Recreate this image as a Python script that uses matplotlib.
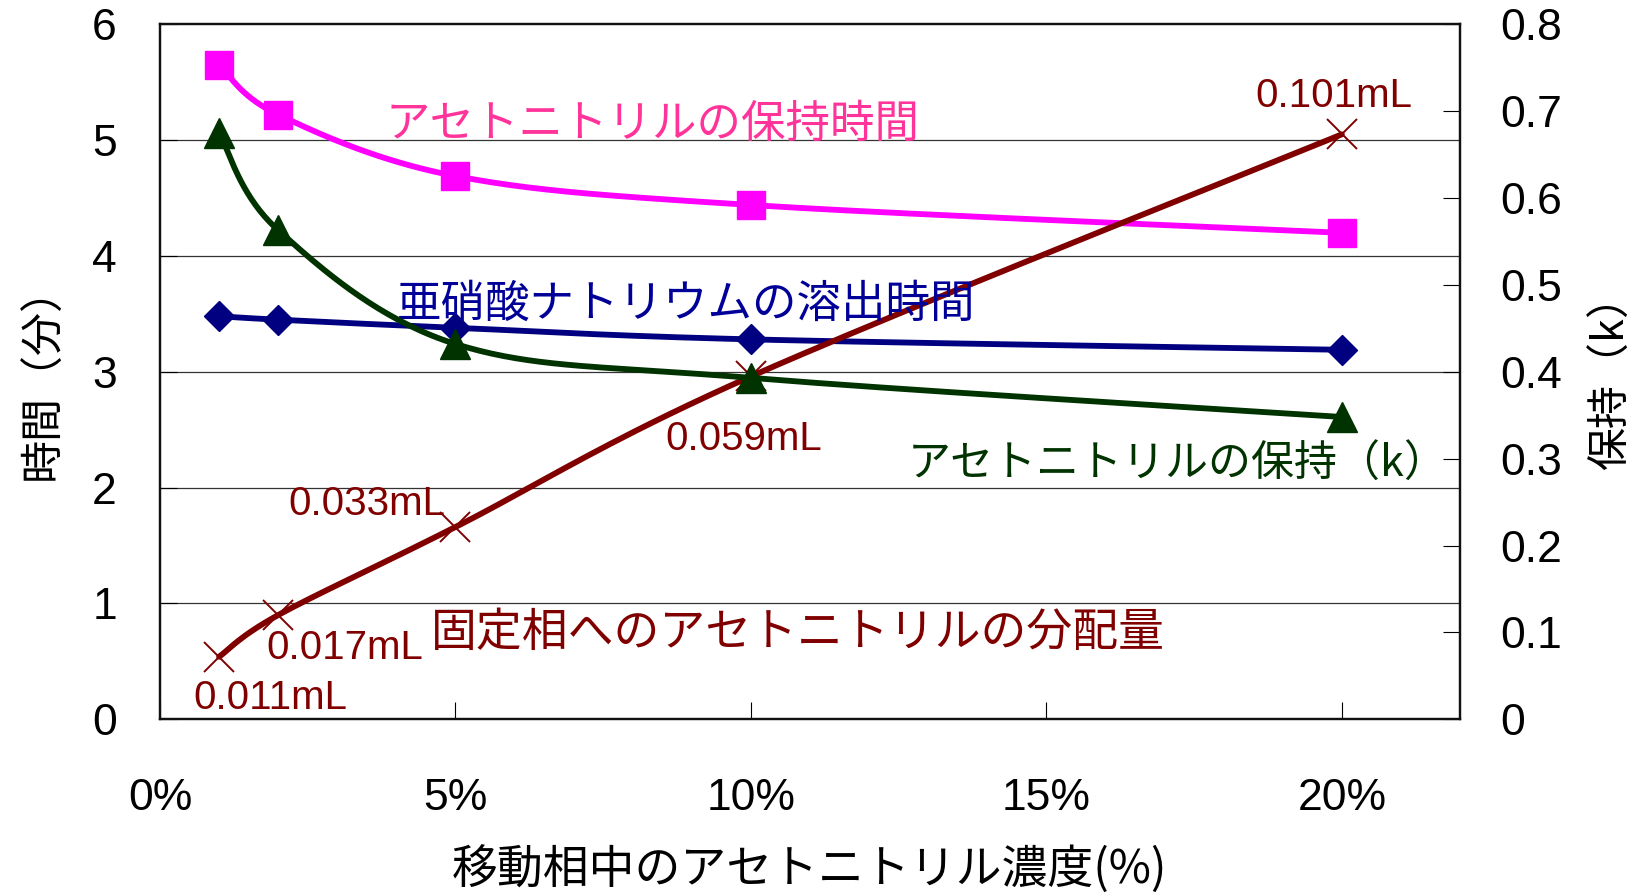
import numpy as np
import matplotlib
matplotlib.use("Agg")
import matplotlib.pyplot as plt

plt.rcParams['font.family'] = ['Liberation Sans', 'Noto Sans CJK JP', 'DejaVu Sans']

# ---- data ----
conc = [1, 2, 5, 10, 20]                         # 移動相中のアセトニトリル濃度 (%)
acn_time = [5.65, 5.22, 4.69, 4.44, 4.20]        # アセトニトリルの保持時間 (分)
nitrite_time = [3.48, 3.45, 3.38, 3.28, 3.19]    # 亜硝酸ナトリウムの溶出時間 (分)
acn_k = [0.675, 0.563, 0.432, 0.393, 0.348]      # アセトニトリルの保持(k)  (right axis)
dist_plot = [0.54, 0.90, 1.66, 2.96, 5.05]       # 固定相への分配量 (plotted on left scale)
dist_labels = ["0.011mL", "0.017mL", "0.033mL", "0.059mL", "0.101mL"]
x_ticks = [0, 5, 10, 15, 20]
x_ticklabels = ["0%", "5%", "10%", "15%", "20%"]
left_ticks = [0, 1, 2, 3, 4, 5, 6]
right_ticks = [0, 0.1, 0.2, 0.3, 0.4, 0.5, 0.6, 0.7, 0.8]
right_ticklabels = ["0", "0.1", "0.2", "0.3", "0.4", "0.5", "0.6", "0.7", "0.8"]

XMAX = 22
W_PX, H_PX = 1300.0, 695.0


def smooth(xs, ys, ymax, n=40):
    """Excel-like Bezier smoothing computed in (approximate) pixel space."""
    P = np.column_stack([np.asarray(xs, float) / XMAX * W_PX,
                         np.asarray(ys, float) / ymax * H_PX])
    m = len(P)
    out = []
    t = np.linspace(0, 1, n)[:, None]
    for i in range(m - 1):
        p0 = P[i]
        p3 = P[i + 1]
        pm = P[i - 1] if i > 0 else P[i]
        pp = P[i + 2] if i + 2 < m else P[i + 1]
        c1 = p0 + (p3 - pm) / 6.0
        c2 = p3 - (pp - p0) / 6.0
        seg = ((1 - t) ** 3) * p0 + 3 * ((1 - t) ** 2) * t * c1 + 3 * (1 - t) * t ** 2 * c2 + t ** 3 * p3
        out.append(seg if i == 0 else seg[1:])
    out = np.vstack(out)
    return out[:, 0] / W_PX * XMAX, out[:, 1] / H_PX * ymax


fig = plt.figure(figsize=(16.37, 8.96), dpi=100)
ax = fig.add_axes([160 / 1637, 1 - 719.3 / 896, 1300 / 1637, 695 / 896])
ax2 = ax.twinx()

ax.set_xlim(0, XMAX)
ax.set_ylim(0, 6)
ax2.set_ylim(0, 0.8)

# gridlines at left-axis integers
for v in left_ticks[1:-1]:
    ax.axhline(v, color='#333333', lw=0.9, zorder=1)

PINK = '#FF00FF'
BLUE = '#000080'
GREEN = '#003300'
RED = '#800000'
LW = 4.2

sx, sy = smooth(conc, acn_time, 6)
ax.plot(sx, sy, color=PINK, lw=LW, zorder=3, solid_capstyle='round')
ax.plot(conc, acn_time, ls='none', marker='s', ms=20, color=PINK, zorder=4)

sx, sy = smooth(conc, nitrite_time, 6)
ax.plot(sx, sy, color=BLUE, lw=LW, zorder=3, solid_capstyle='round')
ax.plot(conc, nitrite_time, ls='none', marker='D', ms=15, color=BLUE, zorder=4)

sx, sy = smooth(conc, dist_plot, 6)
ax.plot(sx, sy, color=RED, lw=LW, zorder=3, solid_capstyle='round')
ax.plot(conc, dist_plot, ls='none', marker='x', ms=22, mew=1.4, color=RED, zorder=4)

sx, sy = smooth(conc, acn_k, 0.8)
ax2.plot(sx, sy, color=GREEN, lw=LW, zorder=3, solid_capstyle='round')
ax2.plot(conc, acn_k, ls='none', marker='^', ms=22, color=GREEN, zorder=4)

# ticks
ax.set_xticks(x_ticks)
ax.set_xticklabels(x_ticklabels)
ax.set_yticks(left_ticks)
ax.set_yticklabels([str(v) for v in left_ticks])
ax2.set_yticks(right_ticks)
ax2.set_yticklabels(right_ticklabels)

ax.tick_params(axis='x', direction='in', length=12, width=0.8, pad=42, labelsize=32)
ax.tick_params(axis='y', direction='in', length=12, width=0.8, pad=31, labelsize=32)
ax2.tick_params(axis='y', direction='in', length=12, width=0.8, pad=29, labelsize=32)

for a in (ax, ax2):
    for s in a.spines.values():
        s.set_linewidth(1.6)
        s.set_color('#111111')

jp = ['Noto Sans CJK JP']
fig.text(809 / 1637, 1 - 871 / 896, "移動相中のアセトニトリル濃度(%)", fontsize=33, family=jp,
         ha='center', va='center')
fig.text(44 / 1637, 1 - 372 / 896, "時間（分）", fontsize=31, family=jp,
         ha='center', va='center', rotation=90)
fig.text(1612 / 1637, 1 - 372 / 896, "保持（k）", fontsize=31, family=jp,
         ha='center', va='center', rotation=90)

# series labels
ax.text(3.82, 5.14, "アセトニトリルの保持時間", color='#FF3399', fontsize=32, family=jp, va='center', ha='left', zorder=5)
ax.text(4.01, 3.59, "亜硝酸ナトリウムの溶出時間", color='#000099', fontsize=32, family=jp, va='center', ha='left', zorder=5)
ax.text(12.65, 2.20, "アセトニトリルの保持（k）", color=GREEN, fontsize=31, family=jp, va='center', ha='left', zorder=5)
ax.text(4.59, 0.745, "固定相へのアセトニトリルの分配量", color=RED, fontsize=33, family=jp, va='center', ha='left', zorder=5)

# value labels
label_pos = [(1.86, 0.184), (3.13, 0.616), (3.50, 1.86), (9.88, 2.42), (19.87, 5.38)]
for (lx, ly), txt in zip(label_pos, dist_labels):
    ax.text(lx, ly, txt, color=RED, fontsize=29, va='center', ha='center', zorder=5)

fig.savefig("out.png", dpi=100, facecolor='white')
